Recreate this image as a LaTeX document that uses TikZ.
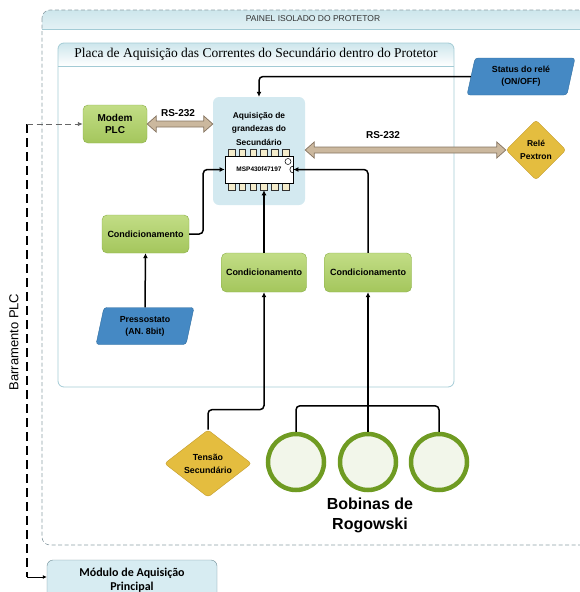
\documentclass[tikz,border=0pt]{standalone}
\usepackage{fontspec}
\setsansfont{Liberation Sans}
\newfontfamily\boardfont{Liberation Serif}
\newfontfamily\modfont{Carlito}
\usetikzlibrary{arrows.meta,positioning,shapes.geometric,calc}

\definecolor{greentop}{HTML}{C2DD86}
\definecolor{greenbot}{HTML}{A4C65C}
\definecolor{greenedge}{HTML}{8AAE48}
\definecolor{bluefill}{HTML}{4589C4}
\definecolor{blueedge}{HTML}{2F6D9F}
\definecolor{goldfill}{HTML}{E4BD3F}
\definecolor{goldedge}{HTML}{C39B2A}
\definecolor{mcufill}{HTML}{D3E9F0}
\definecolor{pinfill}{HTML}{F4ECCB}
\definecolor{tanfill}{HTML}{CBB89E}
\definecolor{tanedge}{HTML}{857460}
\definecolor{boardedge}{HTML}{A3CBD5}
\definecolor{bandtop}{HTML}{CDE6EC}
\definecolor{panelgray}{HTML}{8C9EA5}
\definecolor{coilgreen}{HTML}{6F9B22}
\definecolor{coilfill}{HTML}{F2F6EA}
\definecolor{modfill}{HTML}{D7ECF2}
\definecolor{modedge}{HTML}{6F8C95}

% block arrow with two heads, horizontal
\newcommand{\rsarrow}[2]{%
  \draw[rsbar] let \p1=#1, \p2=#2 in
    (\x1,\y1) -- (\x1+9pt,\y1+8pt) -- (\x1+9pt,\y1+3pt) -- (\x2-9pt,\y1+3pt) -- (\x2-9pt,\y1+8pt)
    -- (\x2,\y1) -- (\x2-9pt,\y1-8pt) -- (\x2-9pt,\y1-3pt) -- (\x1+9pt,\y1-3pt) -- (\x1+9pt,\y1-8pt) -- cycle;}

\begin{document}
\begin{tikzpicture}[x=1pt,y=-1pt,
conn/.style={-{Latex[length=5pt,width=5pt]}, line width=1.5pt, rounded corners=4pt},
wire/.style={line width=1.5pt, rounded corners=4pt},
greenbox/.style={draw=greenedge, top color=greentop, bottom color=greenbot, rounded corners=5pt, align=center, font=\sffamily\bfseries\fontsize{9}{10.5}\selectfont},
slanted/.style={trapezium, trapezium left angle=70, trapezium right angle=110, trapezium stretches body, draw=blueedge, fill=bluefill, rounded corners=3pt, align=center, font=\sffamily\bfseries\fontsize{8.8}{12}\selectfont, minimum height=37pt, minimum width=108pt, inner sep=1pt},
golddiamond/.style={diamond, draw=goldedge, fill=goldfill, rounded corners=3pt, align=center, inner sep=0pt, font=\sffamily\bfseries\fontsize{8.8}{13}\selectfont},
coil/.style={circle, draw=coilgreen, line width=4.5pt, fill=coilfill, minimum size=56pt, inner sep=0pt},
rsbar/.style={draw=tanedge, fill=tanfill, line width=0.7pt},
rslabel/.style={font=\sffamily\bfseries\fontsize{10}{12}\selectfont},
pin/.style={draw=black!80, fill=pinfill, line width=0.5pt, minimum width=6.5pt, minimum height=7pt, inner sep=0pt},
busline/.style={line width=1.8pt, dash pattern=on 9pt off 5pt}
]
\useasboundingbox (0,0) rectangle (580,592);

% painel isolado
\begin{scope}
  \clip[rounded corners=8pt] (42,10) rectangle (620,545);
  \shade[top color=bandtop, bottom color=bandtop!55] (42,10) rectangle (620,29);
\end{scope}
\draw[boardedge, line width=0.6pt] (42,29) -- (620,29);
\draw[panelgray, dash pattern=on 4pt off 2.5pt, line width=0.6pt, rounded corners=8pt] (42,10) rectangle (620,545);
\node[font=\sffamily\fontsize{8.5}{10}\selectfont, text=black!80] (paneltitle) at (313,19) {PAINEL ISOLADO DO PROTETOR};

% placa
\begin{scope}
  \clip[rounded corners=6pt] (58,43) rectangle (454,387);
  \shade[top color=bandtop, bottom color=white] (58,43) rectangle (454,66);
\end{scope}
\draw[boardedge, line width=0.8pt] (58,66) -- (454,66);
\draw[boardedge, line width=0.8pt, rounded corners=6pt] (58,43) rectangle (454,387);
\node[font=\boardfont\fontsize{13.5}{16}\selectfont] (boardtitle) at (256,54) {Placa de Aquisição das Correntes do Secundário dentro do Protetor};

% microcontrolador
\node[fill=mcufill, rounded corners=6pt, minimum width=92pt, minimum height=108pt] (mcu) at (259,151) {};
\node[align=center, font=\sffamily\bfseries\fontsize{8.4}{13.5}\selectfont] (mcutext) at (259,128.5) {Aquisição de\\grandezas do\\Secundário};
\foreach \i in {0,...,5}{
  \node[pin] (ptop\i) at (231.5+10.8*\i,152.5) {};
  \node[pin] (pbot\i) at (231.5+10.8*\i,186.5) {};
}
\node[draw, fill=white, line width=0.7pt, minimum width=68pt, minimum height=27pt, inner sep=0pt, font=\sffamily\bfseries\fontsize{6.5}{8}\selectfont] (chip) at (259,169.5) {MSP430f47197};
\draw[line width=0.5pt] (288,161.5) circle[radius=3pt];
\draw[line width=0.6pt] ([yshift=3.5pt]chip.east) arc[start angle=90, end angle=270, radius=3.5pt];

% blocos
\node[greenbox, minimum width=64pt, minimum height=38pt, font=\sffamily\bfseries\fontsize{10}{12}\selectfont] (modem) at (115,124) {Modem\\PLC};
\node[greenbox, minimum width=87pt, minimum height=38pt] (cond1) at (145.5,234) {Condicionamento};
\node[greenbox, minimum width=85pt, minimum height=39pt] (cond2) at (264,272.5) {Condicionamento};
\node[greenbox, minimum width=87pt, minimum height=39pt] (cond3) at (368,272.5) {Condicionamento};
\node[slanted] (status) at (521,76.5) {Status do relé\\(ON/OFF)};
\node[slanted, minimum width=98pt] (press) at (145,326) {Pressostato\\(AN. 8bit)};
\node[golddiamond, minimum width=60pt, minimum height=60pt, font=\sffamily\bfseries\fontsize{8.5}{13}\selectfont] (relay) at (536,150) {Relé\\Pextron};
\node[golddiamond, minimum width=87pt, minimum height=63pt] (tension) at (208,463.5) {Tensão\\Secundário};
\node[coil] (coil1) at (296,462) {};
\node[coil] (coil2) at (368,462) {};
\node[coil] (coil3) at (439,462) {};
\node[align=center, font=\sffamily\bfseries\fontsize{16}{20}\selectfont] (coiltext) at (370,515) {Bobinas de\\Rogowski};
\node[draw=modedge, fill=modfill, rounded corners=6pt, minimum width=170pt, minimum height=40pt, align=center, font=\modfont\bfseries\fontsize{12}{14}\selectfont] (module) at (132,580) {Módulo de Aquisição\\Principal};
\node[rotate=90, font=\sffamily\fontsize{13}{15}\selectfont] (buslabel) at (14,342) {Barramento PLC};

% RS-232
\rsarrow{(modem.east)}{(mcu.west |- modem.east)}
\node[rslabel] (rs1) at (178,113) {RS-232};
\rsarrow{(mcu.east |- relay.west)}{(relay.west)}
\node[rslabel] (rs2) at (383,135) {RS-232};

% ligacoes
\draw[conn] (status.west) -| (mcu.north);
\draw[conn] (cond1.east) -- ++(14,0) |- (chip.west);
\draw[conn] (cond2.north) -- (cond2.north |- pbot3.south);
\draw[conn] (cond3.north) |- (chip.east);
\draw[conn] (press.north) -- (cond1.south);
\draw[conn] (tension.north) -- ++(0,-20) -| (cond2.south);
\coordinate (junction) at ($(coil2.north)+(0,-26)$);
\draw[conn] (coil2.north) -- (cond3.south);
\draw[wire] (coil1.north) |- (junction) -| (coil3.north);

% barramento PLC
\coordinate (bustop) at (27,124);
\coordinate (busbot) at (27,577);
\draw[busline] (bustop) -- (busbot);
\draw[-{Latex[length=5pt,width=4.5pt]}, black!60, line width=0.9pt, dash pattern=on 6pt off 3.5pt] (bustop) -- (modem.west);
\draw[-{Latex[length=4pt,width=4pt]}, line width=0.8pt] (busbot) -- (module.west |- busbot);
\end{tikzpicture}
\end{document}
